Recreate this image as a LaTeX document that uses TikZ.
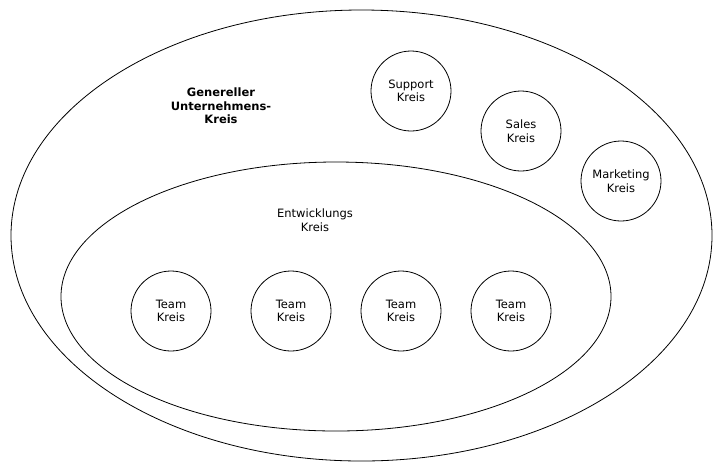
\documentclass[tikz,border=0pt]{standalone}
\usepackage{fontspec}
\setmainfont{DejaVu Sans}
\usetikzlibrary{shapes, positioning}

\begin{document}
\begin{tikzpicture}[x=1pt,y=-1pt,on grid,
    font=\fontsize{11.5}{13.5}\selectfont,
    kreis/.style={circle,draw,line width=0.8pt,minimum size=80pt,inner sep=0pt,align=center},
    bereich/.style={ellipse,draw,line width=0.8pt,inner sep=0pt}]

   \useasboundingbox (0,0) rectangle (722,475);

   % Ellipses
      \node[bereich,minimum width=701pt,minimum height=451pt] (firm) at (361.5,235.5) {};
      \node[bereich,minimum width=550pt,minimum height=269pt] (dev)  at (336,296.5)   {};

   % Labels
      \node[align=center,font=\bfseries\fontsize{11.5}{13.5}\selectfont] (firmlbl) at (221,106) {Genereller\\Unternehmens-\\Kreis};
      \node[align=center]                                                 (devlbl)  at (315,220) {Entwicklungs\\Kreis};

   % Circles
      \node[kreis] (supp)  at (411,91)  {Support\\Kreis};
      \node[kreis] (sales) at (521,131) {Sales\\Kreis};
      \node[kreis] (mark)  at (621,181) {Marketing\\Kreis};
      \node[kreis] (teama) at (171,311) {Team\\Kreis};
      \node[kreis] (teamb) [right=120pt of teama] {Team\\Kreis};
      \node[kreis] (teamc) [right=110pt of teamb] {Team\\Kreis};
      \node[kreis] (teamd) [right=110pt of teamc] {Team\\Kreis};
\end{tikzpicture}
\end{document}
